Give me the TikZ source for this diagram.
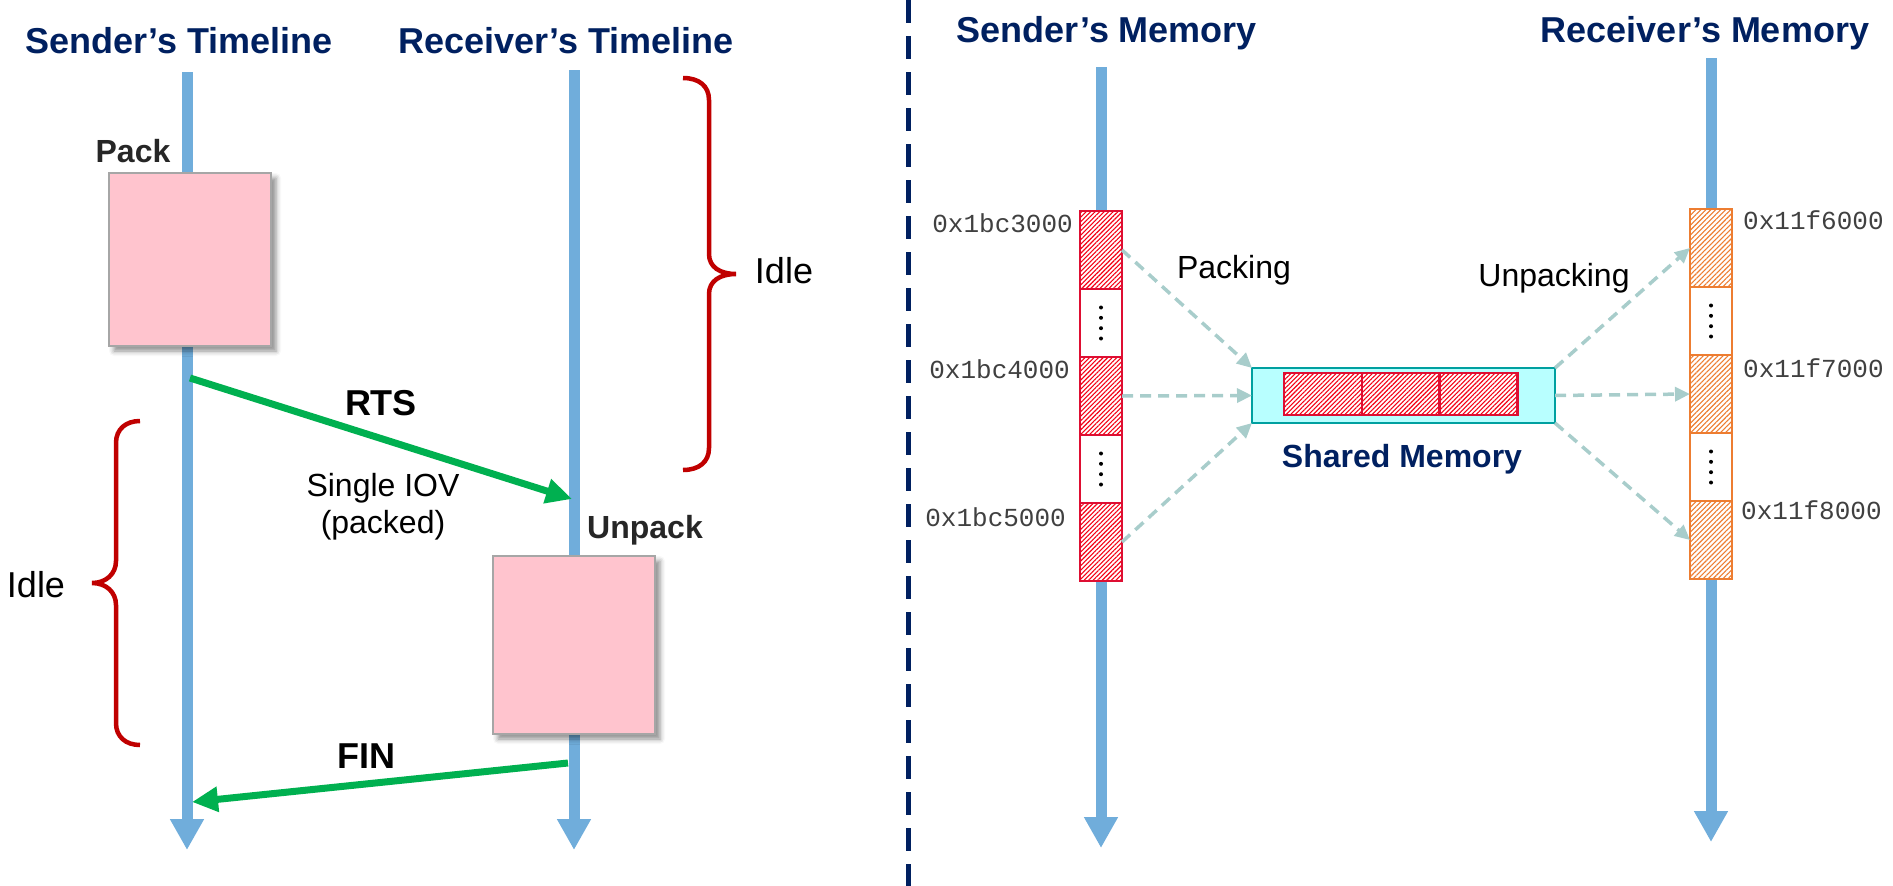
\documentclass[tikz,border=0pt]{standalone}
\usepackage{fontspec}
\setmainfont{Liberation Sans}
\newfontfamily\addrfont{Liberation Mono}
\usetikzlibrary{arrows.meta,patterns.meta,shadows.blur}

\definecolor{navy}{RGB}{0,32,96}
\definecolor{tlblue}{RGB}{112,173,219}
\definecolor{msggreen}{RGB}{0,176,80}
\definecolor{boxpink}{RGB}{255,196,206}
\definecolor{boxedge}{RGB}{166,166,166}
\definecolor{bracered}{RGB}{192,0,0}
\definecolor{cellred}{RGB}{222,14,50}
\definecolor{hatchred}{RGB}{245,0,20}
\definecolor{cellorange}{RGB}{237,125,49}
\definecolor{copyline}{RGB}{168,205,203}
\definecolor{shmfill}{RGB}{184,255,255}
\definecolor{shmedge}{RGB}{0,160,160}
\definecolor{labelgray}{RGB}{38,38,38}
\definecolor{addrgray}{RGB}{64,64,64}

\begin{document}
\begin{tikzpicture}[x=1pt,y=-1pt,
  title/.style={font=\fontsize{36}{43}\selectfont\bfseries, text=navy, inner sep=0pt, anchor=base},
  phase/.style={font=\fontsize{32}{37}\selectfont\bfseries, text=labelgray, inner sep=0pt, anchor=base},
  msglabel/.style={font=\fontsize{36}{43}\selectfont\bfseries, text=black, inner sep=0pt, anchor=base},
  plain/.style={font=\fontsize{32}{37}\selectfont, text=black, inner sep=0pt},
  idle/.style={font=\fontsize{36}{43}\selectfont, text=black, inner sep=0pt, anchor=base},
  addr/.style={font=\fontsize{26}{30}\selectfont\addrfont, text=addrgray, inner sep=0pt},
  timeline/.style={draw=tlblue, line width=11pt, -{Triangle[length=31pt,width=32pt]}},
  msg/.style={draw=msggreen, line width=7pt, -{Triangle[length=26pt,width=24pt]}},
  workbox/.style={rectangle, draw=boxedge, line width=1.5pt, fill=boxpink, inner sep=0pt,
    blur shadow={shadow xshift=5pt, shadow yshift=-5pt, shadow blur radius=5pt, shadow opacity=45}},
  bracestyle/.style={draw=bracered, line width=4.5pt},
  cellbase/.style={rectangle, inner sep=0pt, outer sep=0pt, minimum width=42pt, line width=2.5pt},
  sendcell/.style={cellbase, draw=cellred, minimum height=78pt, preaction={fill=white},
    pattern={Lines[angle=45,distance=3.2pt,line width=1.1pt]}, pattern color=hatchred},
  sendgap/.style={cellbase, draw=cellred, minimum height=68pt, fill=white},
  recvcell/.style={cellbase, draw=cellorange, minimum height=78pt, preaction={fill=white},
    pattern={Lines[angle=45,distance=3.5pt,line width=1.1pt]}, pattern color=cellorange},
  recvgap/.style={cellbase, draw=cellorange, minimum height=68pt, fill=white},
  packed/.style={rectangle, inner sep=0pt, outer sep=0pt, draw=cellred, line width=2.5pt,
    minimum width=77.7pt, minimum height=42pt, preaction={fill=white},
    pattern={Lines[angle=45,distance=3.2pt,line width=1.1pt]}, pattern color=hatchred},
  copy/.style={draw=copyline, line width=3.5pt, dash pattern=on 11pt off 7pt,
    -{Triangle[length=15pt,width=14pt]}},
  dotmark/.style={fill=black, draw=none}
]
\useasboundingbox (0,0) rectangle (1893,886);

% ---------------- left half: timelines ----------------
\node[title] (tSend) at (179,53) {Sender’s Timeline};
\node[title] (tRecv) at (566,53) {Receiver’s Timeline};

\coordinate (sTop) at (187,72);
\coordinate (sEnd) at (187,850);
\coordinate (rTop) at (574,70);
\coordinate (rEnd) at (574,850);
\draw[timeline] (sTop) -- (sEnd);
\draw[timeline] (rTop) -- (rEnd);

% work phases
\node[workbox, minimum width=162pt, minimum height=173pt] (pack) at (190,259.5) {};
\node[phase] (packLbl) at (133,162) {Pack};
\node[workbox, minimum width=162pt, minimum height=178pt] (unpack) at (574,645) {};
\node[phase] (unpackLbl) at (645,538) {Unpack};

% messages
\coordinate (rtsFrom) at (190,378);
\coordinate (rtsTo) at (572,499);
\draw[msg] (rtsFrom) -- (rtsTo);
\node[msglabel] (rts) at (381,415) {RTS};
\node[plain, align=center, anchor=north] (iov) at (383,473) {Single IOV\\(packed)};

\coordinate (finFrom) at (568,763);
\coordinate (finTo) at (192,802);
\draw[msg] (finFrom) -- (finTo);
\node[msglabel] (fin) at (366,768) {FIN};

% idle periods
\draw[bracestyle] (683,78) .. controls (699,78) and (709,86) .. (709,100) -- (709,254)
  .. controls (709,267) and (720,274) .. (736,274)
  .. controls (720,274) and (709,281) .. (709,294) -- (709,448)
  .. controls (709,462) and (699,470) .. (683,470);
\node[idle] (idleR) at (784,283) {Idle};

\draw[bracestyle] (140,421) .. controls (126,421) and (116,429) .. (116,443) -- (116,561)
  .. controls (116,574) and (106,583) .. (92,583)
  .. controls (106,583) and (116,592) .. (116,605) -- (116,723)
  .. controls (116,737) and (126,745) .. (140,745);
\node[idle] (idleL) at (36,597) {Idle};

% separator
\coordinate (divTop) at (908,0);
\coordinate (divBot) at (908,886);
\draw[navy, line width=5pt, dash pattern=on 23pt off 13pt] (divTop) -- (divBot);

% ---------------- right half: memory ----------------
\node[title] (tSmem) at (1107,42) {Sender’s Memory};
\node[title] (tRmem) at (1705,42) {Receiver’s Memory};

\coordinate (smTop) at (1101,67);
\coordinate (smEnd) at (1101,848);
\coordinate (rmTop) at (1711,58);
\coordinate (rmEnd) at (1711,842);
\draw[timeline] (smTop) -- (smEnd);
\draw[timeline] (rmTop) -- (rmEnd);

% sender buffer
\node[sendcell] (s1) at (1101,250) {};
\node[sendgap]  (s2) at (1101,323) {};
\node[sendcell] (s3) at (1101,396) {};
\node[sendgap]  (s4) at (1101,469) {};
\node[sendcell] (s5) at (1101,542) {};
\foreach \c in {s2,s4} {
  \foreach \d in {-15.5,-5.2,5.2,15.5}
    \fill[dotmark] ([yshift=-\d pt]\c.center) circle (2pt);
}
\node[addr, anchor=base east] (a1) at (1073,232) {0x1bc3000};
\node[addr, anchor=base east] (a2) at (1070,378) {0x1bc4000};
\node[addr, anchor=base east] (a3) at (1066,526) {0x1bc5000};

% receiver buffer
\node[recvcell] (r1) at (1711,248) {};
\node[recvgap]  (r2) at (1711,321) {};
\node[recvcell] (r3) at (1711,394) {};
\node[recvgap]  (r4) at (1711,467) {};
\node[recvcell] (r5) at (1711,540) {};
\foreach \c in {r2,r4} {
  \foreach \d in {-15.5,-5.2,5.2,15.5}
    \fill[dotmark] ([yshift=-\d pt]\c.center) circle (2pt);
}
\node[addr, anchor=base west] (b1) at (1743,229) {0x11f6000};
\node[addr, anchor=base west] (b2) at (1743,377) {0x11f7000};
\node[addr, anchor=base west] (b3) at (1741,519) {0x11f8000};

% shared memory region
\node[rectangle, draw=shmedge, fill=shmfill, line width=2.5pt, inner sep=0pt, outer sep=0pt,
  minimum width=303pt, minimum height=55pt] (shm) at (1403.5,395.5) {};
\node[packed] (p1) at (1323,394) {};
\node[packed, anchor=west] (p2) at (p1.east) {};
\node[packed, anchor=west] (p3) at (p2.east) {};
\node[font=\fontsize{32}{37}\selectfont\bfseries, text=navy, inner sep=0pt, anchor=base] (shmLbl)
  at (1402,467) {Shared Memory};

% copies
\draw[copy] (s1.east) -- (shm.north west);
\draw[copy] (s3.east) -- (shm.west);
\draw[copy] (s5.east) -- (shm.south west);
\draw[copy] (shm.north east) -- (r1.west);
\draw[copy] (shm.east) -- (r3.west);
\draw[copy] (shm.south east) -- (r5.west);
\node[plain, anchor=base] (packing) at (1234,278) {Packing};
\node[plain, anchor=base] (unpacking) at (1554,286) {Unpacking};
\end{tikzpicture}
\end{document}
